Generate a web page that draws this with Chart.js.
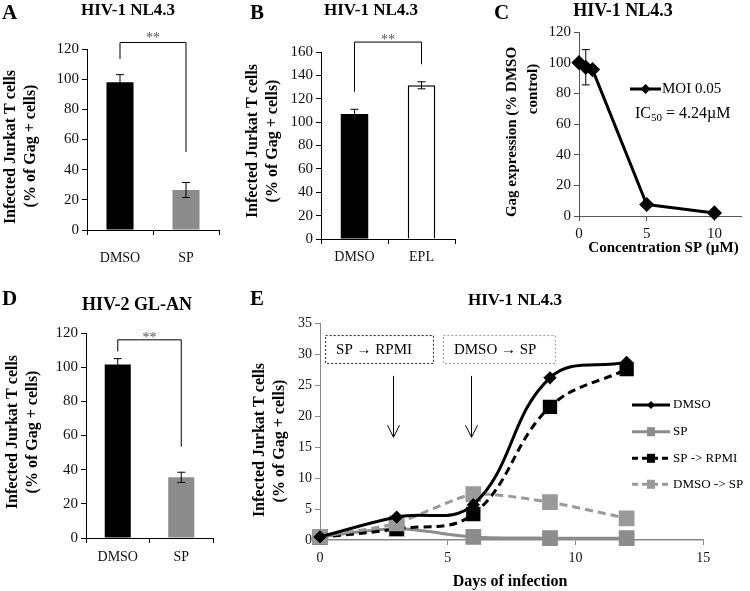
<!DOCTYPE html>
<html><head><meta charset="utf-8">
<script src="https://cdn.jsdelivr.net/npm/chart.js@4.4.1/dist/chart.umd.min.js"></script>
<style>
html,body{margin:0;padding:0;background:#fff;}
#wrap{position:relative;width:750px;height:591px;overflow:hidden;background:#fff;}
canvas{position:absolute;left:0;top:0;}
</style></head><body>
<div id="wrap">
<canvas id="cA" width="750" height="591"></canvas>
<canvas id="cB" width="750" height="591"></canvas>
<canvas id="cC" width="750" height="591"></canvas>
<canvas id="cD" width="750" height="591"></canvas>
<canvas id="cE" width="750" height="591"></canvas>
</div>
<script>
// ---------- data ----------
const catsA = ['DMSO', 'SP'];
const valsA = [98, 26.5];
const errA = [5, 5];

const catsB = ['DMSO', 'EPL'];
const valsB = [107, 131.5];
const errB = [4, 3];

const concC = [0, 0.5, 1, 5, 10];
const gagC = [100, 97, 95.5, 7.5, 2];
const errC = [0, 11.5, 0, 0, 0];

const catsD = ['DMSO', 'SP'];
const valsD = [101.5, 35.5];
const errD = [3.5, 3];

const daysE = [0, 3, 6, 9, 12];
const dmsoE = [0.5, 3.7, 5.7, 26.2, 28.7];
const spE = [0.5, 1.8, 0.5, 0.3, 0.3];
const spRpmiE = [0.4, 1.8, 4.2, 21.5, 27.6];
const dmsoSpE = [0.5, 2.7, 7.4, 6.1, 3.5];

const yTicksA = [0, 120, 20];
const yTicksB = [0, 160, 20];
const yTicksC = [0, 120, 20];
const xTicksC = [0, 12, 5];
const yTicksD = [0, 120, 20];
const yTicksE = [0, 35, 5];
const xTicksE = [0, 15, 5];

// ---------- common ----------
const FF = '"Liberation Serif","Times New Roman",serif';
Chart.defaults.font.family = FF;
Chart.defaults.color = '#111';
Chart.defaults.animation = false;
Chart.defaults.responsive = false;
Chart.defaults.plugins.legend.display = false;
Chart.defaults.plugins.tooltip.enabled = false;

const YW = 40, XH = 40;
function frame(l, t, r, b) { return {left: l - YW, top: t, right: 750 - r, bottom: 591 - b - XH}; }
const fixY = s => { s.width = YW; };
const fixX = s => { s.height = XH; };

function text(ctx, s, x, y, font, align, color, base) {
  ctx.save();
  ctx.font = font; ctx.fillStyle = color || '#000';
  ctx.textAlign = align || 'center'; ctx.textBaseline = base || 'middle';
  ctx.fillText(s, x, y);
  ctx.restore();
}
function vtext(ctx, s, x, y, font) {
  ctx.save();
  ctx.translate(x, y); ctx.rotate(-Math.PI / 2);
  ctx.font = font; ctx.fillStyle = '#000';
  ctx.textAlign = 'center'; ctx.textBaseline = 'middle';
  ctx.fillText(s, 0, 0);
  ctx.restore();
}
function errBars(ctx, pts, color) {
  ctx.save(); ctx.strokeStyle = color || '#000'; ctx.lineWidth = 1;
  ctx.beginPath();
  pts.forEach(p => {
    if (p.yt === p.yb) return;
    ctx.moveTo(p.x, p.yt); ctx.lineTo(p.x, p.yb);
    ctx.moveTo(p.x - 4, p.yt); ctx.lineTo(p.x + 4, p.yt);
    ctx.moveTo(p.x - 4, p.yb); ctx.lineTo(p.x + 4, p.yb);
  });
  ctx.stroke(); ctx.restore();
}
function bracket(ctx, x1, x2, yTop, yL, yR) {
  ctx.save(); ctx.strokeStyle = '#000'; ctx.lineWidth = 1;
  ctx.beginPath();
  ctx.moveTo(x1, yL); ctx.lineTo(x1, yTop); ctx.lineTo(x2, yTop); ctx.lineTo(x2, yR);
  ctx.stroke(); ctx.restore();
}

function yScale(r, color, size) {
  return {min: r[0], max: r[1], ticks: {stepSize: r[2], font: {size: size || 15}, padding: 3, color: '#111'},
    grid: {drawOnChartArea: false, tickLength: 5, color: color}, border: {color: color, width: 1}, afterFit: fixY};
}

function barPanel(id, cats, vals, errs, colors, bw, yr, area, xPad, deco) {
  return new Chart(document.getElementById(id), {
    type: 'bar',
    data: {labels: cats, datasets: [{data: vals, backgroundColor: colors, borderColor: '#000', borderWidth: bw,
      barPercentage: 0.41, categoryPercentage: 1}]},
    options: {
      layout: {padding: frame(...area)},
      scales: {
        x: {offset: true, grid: {offset: true, drawOnChartArea: false, tickLength: 5, color: '#000'},
          border: {color: '#000', width: 1}, ticks: {font: {size: 14}, padding: xPad, color: '#111'}, afterFit: fixX},
        y: yScale(yr, '#000')
      }
    },
    plugins: [{id: 'deco', afterDraw(chart) {
      const ctx = chart.ctx, meta = chart.getDatasetMeta(0), y = chart.scales.y;
      errBars(ctx, vals.map((v, i) => ({x: meta.data[i].x, yt: y.getPixelForValue(v + errs[i]), yb: y.getPixelForValue(v - errs[i])})));
      deco(chart, ctx, meta, y);
    }}]
  });
}

// ---------- A ----------
barPanel('cA', catsA, valsA, errA, ['#000', '#8c8c8c'], 0, yTicksA, [87, 49, 219, 230], 14.5, (chart, ctx, meta, y) => {
  const x1 = meta.data[0].x, x2 = meta.data[1].x;
  bracket(ctx, x1, x2, y.getPixelForValue(124.3), y.getPixelForValue(113.4), y.getPixelForValue(51.7));
  text(ctx, '**', (x1 + x2) / 2, 42, '14px ' + FF, 'center', '#555', 'alphabetic');
  text(ctx, 'A', 2, 18.5, 'bold 21px ' + FF, 'left', '#000', 'alphabetic');
  text(ctx, 'HIV-1 NL4.3', 128, 10.5, 'bold 17px ' + FF);
  vtext(ctx, 'Infected Jurkat T cells', 11, 147, 'bold 16px ' + FF);
  vtext(ctx, '(% of Gag + cells)', 31, 146, 'bold 16px ' + FF);
});

// ---------- B ----------
barPanel('cB', catsB, valsB, errB, ['#000', '#fff'], [0, 1.5], yTicksB, [321, 52, 455, 239], 5.3, (chart, ctx, meta, y) => {
  const x1 = meta.data[0].x, x2 = meta.data[1].x;
  bracket(ctx, x1, x2, y.getPixelForValue(168.5), y.getPixelForValue(126), y.getPixelForValue(149.5));
  text(ctx, '**', (x1 + x2) / 2, 44, '14px ' + FF, 'center', '#555', 'alphabetic');
  text(ctx, 'B', 250, 18.5, 'bold 21px ' + FF, 'left', '#000', 'alphabetic');
  text(ctx, 'HIV-1 NL4.3', 371, 10.5, 'bold 17px ' + FF);
  vtext(ctx, 'Infected Jurkat T cells', 253, 141, 'bold 16px ' + FF);
  vtext(ctx, '(% of Gag + cells)', 273, 141, 'bold 16px ' + FF);
});

// ---------- C ----------
new Chart(document.getElementById('cC'), {
  type: 'line',
  data: {datasets: [{data: concC.map((x, i) => ({x: x, y: gagC[i]})), borderColor: '#000', backgroundColor: '#000',
    borderWidth: 3, pointStyle: 'rectRot', pointRadius: 5.5, tension: 0, clip: false, borderJoinStyle: 'round'}]},
  options: {
    layout: {padding: frame(579, 32, 750, 216)},
    scales: {
      x: {type: 'linear', min: xTicksC[0], max: xTicksC[1], ticks: {stepSize: xTicksC[2], font: {size: 15}, padding: 3.6, color: '#111'},
        afterBuildTicks: s => { s.ticks = s.ticks.filter(t => t.value % xTicksC[2] === 0); },
        grid: {drawOnChartArea: false, tickLength: 5, color: '#555'}, border: {color: '#555', width: 1}, afterFit: fixX},
      y: yScale(yTicksC, '#555')
    }
  },
  plugins: [{id: 'decoC', afterDraw(chart) {
    const ctx = chart.ctx, x = chart.scales.x, y = chart.scales.y;
    errBars(ctx, concC.map((c, i) => ({x: x.getPixelForValue(c), yt: y.getPixelForValue(gagC[i] + errC[i]), yb: y.getPixelForValue(gagC[i] - errC[i])})));
    text(ctx, 'C', 494, 18.5, 'bold 21px ' + FF, 'left', '#000', 'alphabetic');
    text(ctx, 'HIV-1 NL4.3', 623, 11.5, 'bold 18px ' + FF);
    vtext(ctx, 'Gag expression (% DMSO', 512, 132, 'bold 15px ' + FF);
    vtext(ctx, 'control)', 533, 89, 'bold 15px ' + FF);
    text(ctx, 'Concentration SP (\u00b5M)', 663.5, 248, 'bold 15px ' + FF);
    // legend
    ctx.save(); ctx.strokeStyle = '#000'; ctx.lineWidth = 3;
    ctx.beginPath(); ctx.moveTo(630, 89); ctx.lineTo(661, 89); ctx.stroke();
    ctx.fillStyle = '#000'; ctx.beginPath();
    ctx.moveTo(645.5, 84); ctx.lineTo(650.5, 89); ctx.lineTo(645.5, 94); ctx.lineTo(640.5, 89); ctx.closePath(); ctx.fill();
    ctx.restore();
    text(ctx, 'MOI 0.05', 662, 89, '15px ' + FF, 'left');
    ctx.save(); ctx.fillStyle = '#000'; ctx.textBaseline = 'alphabetic'; ctx.textAlign = 'left';
    ctx.font = '16px ' + FF; let px = 635; const by = 118;
    ctx.fillText('IC', px, by); px += ctx.measureText('IC').width;
    ctx.font = '11px ' + FF; ctx.fillText('50', px, by + 3); px += ctx.measureText('50').width;
    ctx.font = '16px ' + FF; ctx.fillText(' = 4.24\u00b5M', px, by);
    ctx.restore();
  }}]
});

// ---------- D ----------
barPanel('cD', catsD, valsD, errD, ['#000', '#8c8c8c'], 0, yTicksD, [86, 333, 213, 538], 5.8, (chart, ctx, meta, y) => {
  const x1 = meta.data[0].x, x2 = meta.data[1].x;
  bracket(ctx, x1, x2, y.getPixelForValue(116), y.getPixelForValue(109.2), y.getPixelForValue(53.5));
  text(ctx, '**', (x1 + x2) / 2, 341.5, '14px ' + FF, 'center', '#555', 'alphabetic');
  text(ctx, 'D', 2, 305, 'bold 21px ' + FF, 'left', '#000', 'alphabetic');
  text(ctx, 'HIV-2 GL-AN', 137, 305, 'bold 18px ' + FF);
  vtext(ctx, 'Infected Jurkat T cells', 13, 432, 'bold 16px ' + FF);
  vtext(ctx, '(% of Gag + cells)', 33, 432, 'bold 16px ' + FF);
});

// ---------- E ----------
const pts = arr => daysE.map((d, i) => ({x: d, y: arr[i]}));
const GRAY = '#8c8c8c', LGRAY = '#9a9a9a';
new Chart(document.getElementById('cE'), {
  type: 'line',
  data: {datasets: [
    {label: 'DMSO', data: pts(dmsoE), borderColor: '#000', backgroundColor: '#000', borderWidth: 3,
      pointStyle: 'rectRot', pointRadius: 4.5, tension: 0.4, clip: false, order: 0},
    {label: 'SP', data: pts(spE), borderColor: GRAY, backgroundColor: GRAY, borderWidth: 3,
      pointStyle: 'rect', pointRadius: 9, tension: 0.3, clip: false, order: 3},
    {label: 'SP -> RPMI', data: pts(spRpmiE), borderColor: '#000', backgroundColor: '#000', borderWidth: 3, borderDash: [8, 5],
      pointStyle: 'rect', pointRadius: 8, tension: 0.4, clip: false, order: 2},
    {label: 'DMSO -> SP', data: pts(dmsoSpE), borderColor: LGRAY, backgroundColor: LGRAY, borderWidth: 3, borderDash: [8, 5],
      pointStyle: 'rect', pointRadius: 9, tension: 0.2, clip: false, order: 1}
  ]},
  options: {
    layout: {padding: frame(320, 323.3, 703.3, 540)},
    scales: {
      x: {type: 'linear', min: xTicksE[0], max: xTicksE[1], ticks: {stepSize: xTicksE[2], font: {size: 14}, padding: 4.6, color: '#111'},
        grid: {drawOnChartArea: false, tickLength: 5, color: '#888'}, border: {color: '#888', width: 1.5}, afterFit: fixX},
      y: yScale(yTicksE, '#888', 14)
    }
  },
  plugins: [{id: 'decoE', afterDraw(chart) {
    const ctx = chart.ctx, x = chart.scales.x, y = chart.scales.y;
    text(ctx, 'E', 250, 305, 'bold 21px ' + FF, 'left', '#000', 'alphabetic');
    text(ctx, 'HIV-1 NL4.3', 515, 300.5, 'bold 17px ' + FF);
    vtext(ctx, 'Infected Jurkat T cells', 260, 440, 'bold 16px ' + FF);
    vtext(ctx, '(% of Gag + cells)', 280, 441, 'bold 16px ' + FF);
    text(ctx, 'Days of infection', 510, 582, 'bold 16px ' + FF);
    // boxes
    const box = (x1, x2, col, s) => {
      const l = x.getPixelForValue(x1), r = x.getPixelForValue(x2), t = y.getPixelForValue(33.1), b = y.getPixelForValue(28.6);
      ctx.save(); ctx.strokeStyle = col; ctx.lineWidth = 1; ctx.setLineDash([2, 2]);
      ctx.strokeRect(l + 0.5, t + 0.5, r - l, b - t); ctx.restore();
      text(ctx, s, l + 11, (t + b) / 2 + 1, '15px ' + FF, 'left');
    };
    box(0.2, 4.42, '#222', 'SP \u2192 RPMI');
    box(4.81, 9.19, '#999', 'DMSO \u2192 SP');
    // arrows
    const arrow = (xv) => {
      const px = Math.round(x.getPixelForValue(xv)) + 0.5, t = y.getPixelForValue(26.5), b = y.getPixelForValue(16.6);
      ctx.save(); ctx.strokeStyle = '#000'; ctx.lineWidth = 1; ctx.beginPath();
      ctx.moveTo(px, t); ctx.lineTo(px, b);
      ctx.moveTo(px - 6, b - 12); ctx.lineTo(px, b); ctx.lineTo(px + 6, b - 12);
      ctx.stroke(); ctx.restore();
    };
    arrow(2.85); arrow(5.9);
    // legend
    const rows = [
      {t: 'DMSO', c: '#000', dash: [], m: 'd', y: 405},
      {t: 'SP', c: GRAY, dash: [], m: 's', y: 431.7},
      {t: 'SP -> RPMI', c: '#000', dash: [6, 4], m: 's', y: 458.3},
      {t: 'DMSO -> SP', c: LGRAY, dash: [6, 4], m: 's', y: 484.3}
    ];
    rows.forEach(r => {
      ctx.save(); ctx.strokeStyle = r.c; ctx.fillStyle = r.c; ctx.lineWidth = 3; ctx.setLineDash(r.dash);
      ctx.beginPath(); ctx.moveTo(632, r.y); ctx.lineTo(670, r.y); ctx.stroke();
      ctx.setLineDash([]);
      if (r.m === 'd') { ctx.beginPath(); ctx.moveTo(651, r.y - 4); ctx.lineTo(655, r.y); ctx.lineTo(651, r.y + 4); ctx.lineTo(647, r.y); ctx.closePath(); ctx.fill(); }
      else ctx.fillRect(647, r.y - 4.5, 8, 9);
      ctx.restore();
      text(ctx, r.t, 673, r.y, '13px ' + FF, 'left');
    });
  }}]
});
</script>
</body></html>
